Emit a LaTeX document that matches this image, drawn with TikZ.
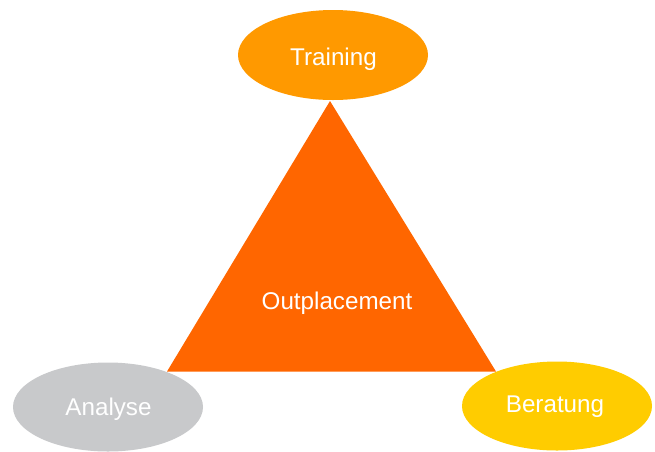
\documentclass[tikz,border=0pt]{standalone}
\usepackage{fontspec}
\setmainfont{Liberation Sans}
\usetikzlibrary{shapes.geometric}
\definecolor{tri}{HTML}{FF6600}
\definecolor{train}{HTML}{FF9900}
\definecolor{berat}{HTML}{FFCC00}
\definecolor{anal}{HTML}{C8C9CB}
\tikzset{
  blob/.style={ellipse, minimum width=190pt, minimum height=89pt, inner sep=0pt},
  lbl/.style={text=white, font=\fontsize{24.2}{27}\selectfont, anchor=base, inner sep=0pt}
}
\begin{document}
\begin{tikzpicture}[x=1pt,y=-1pt]
\useasboundingbox (0,0) rectangle (655,451);
\clip (0,0) rectangle (655,451);
\node[blob, fill=anal] (analyse) at (108,407) {};
\node[blob, fill=berat] (beratung) at (557,406) {};
\fill[tri] (330,101) coordinate (apex) -- (496,371.5) coordinate (br) -- (167,371.5) coordinate (bl) -- cycle;
\node[blob, fill=train, minimum height=90pt] (training) at (333,55) {};
\node[lbl] (tlabel) at (333.5,65) {Training};
\node[lbl] (olabel) at (337,309) {Outplacement};
\node[lbl] (alabel) at (108.5,415) {Analyse};
\node[lbl] (blabel) at (555,412) {Beratung};
\end{tikzpicture}
\end{document}
